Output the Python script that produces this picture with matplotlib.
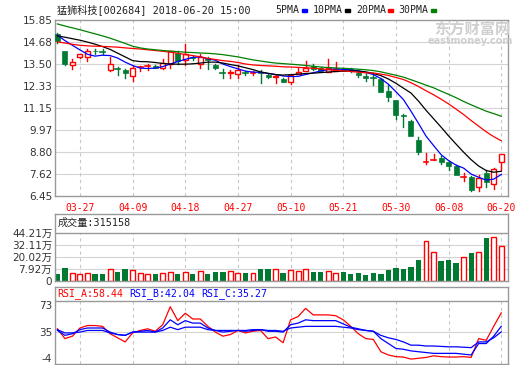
import matplotlib
matplotlib.use("Agg")
import matplotlib.pyplot as plt
import numpy as np
from matplotlib.patches import Rectangle

plt.rcParams['font.family'] = ['DejaVu Sans', 'Noto Sans CJK SC']

# ---- data ----
opens = [15.12, 14.20, 13.45, 13.88, 13.88, 14.22, 14.17, 13.18, 13.24, 13.18,
         12.86, 13.29, 13.38, 13.40, 13.31, 13.52, 14.11, 13.70, 13.88, 13.52,
         13.83, 13.45, 13.07, 13.02, 12.94, 13.02, 13.02, 13.05, 12.91, 12.80,
         12.72, 12.56, 12.98, 13.13, 13.38, 13.31, 13.09, 13.13, 13.25, 13.22,
         13.04, 12.86, 12.75, 12.72, 12.05, 11.57, 10.78, 10.48, 9.42, 8.22,
         8.36, 8.49, 8.29, 8.03, 7.44, 7.49, 6.95, 7.67, 7.10, 8.26]
highs = [15.16, 14.20, 13.79, 14.02, 14.30, 14.30, 14.29, 13.89, 13.34, 13.22,
         13.40, 13.39, 13.50, 13.42, 13.79, 14.22, 14.17, 14.58, 13.95, 14.05,
         13.87, 13.49, 13.22, 13.20, 13.43, 13.12, 13.12, 13.18, 12.95, 12.90,
         12.76, 12.92, 13.30, 13.68, 13.50, 13.36, 13.75, 13.61, 13.30, 13.26,
         13.08, 12.95, 12.90, 12.75, 12.40, 11.60, 10.82, 10.50, 9.58, 8.74,
         8.71, 8.60, 8.32, 8.10, 7.66, 7.50, 7.56, 7.85, 7.96, 8.71]
lows = [14.60, 13.45, 13.22, 13.81, 13.68, 14.06, 14.03, 13.13, 12.91, 12.74,
        12.60, 13.10, 13.20, 13.28, 13.22, 13.28, 13.49, 13.43, 13.70, 13.30,
        13.22, 13.22, 12.77, 12.77, 12.77, 12.90, 12.90, 12.50, 12.75, 12.50,
        12.52, 12.41, 12.95, 13.10, 13.20, 13.10, 13.05, 13.10, 13.10, 13.05,
        12.83, 12.60, 12.38, 11.98, 11.55, 10.57, 10.14, 9.63, 8.70, 8.17,
        8.36, 8.15, 7.85, 7.55, 7.27, 6.72, 6.72, 6.95, 6.80, 7.85]
closes = [14.72, 13.52, 13.63, 14.02, 14.17, 14.18, 14.13, 13.49, 13.21, 13.04,
          13.31, 13.32, 13.41, 13.31, 13.58, 14.20, 13.66, 14.02, 13.82, 13.85,
          13.70, 13.26, 13.04, 13.06, 13.17, 13.00, 13.04, 13.00, 12.79, 12.85,
          12.56, 12.90, 13.07, 13.31, 13.25, 13.13, 13.31, 13.22, 13.15, 13.13,
          12.90, 12.75, 12.73, 12.00, 11.73, 10.80, 10.72, 9.63, 8.78, 8.24,
          8.38, 8.26, 8.03, 7.58, 7.46, 6.77, 7.40, 7.22, 7.88, 8.71]

ma5 = [15.04, 14.75, 14.50, 14.25, 14.02, 13.92, 13.97, 13.95, 13.82, 13.60,
       13.42, 13.28, 13.26, 13.28, 13.36, 13.50, 13.63, 13.75, 13.85, 13.88,
       13.78, 13.70, 13.50, 13.36, 13.24, 13.12, 13.07, 13.05, 13.00, 12.94,
       12.86, 12.83, 12.84, 12.94, 13.03, 13.13, 13.20, 13.24, 13.21, 13.19,
       13.14, 13.04, 12.94, 12.72, 12.42, 12.02, 11.60, 10.98, 10.33, 9.65,
       9.15, 8.66, 8.34, 8.10, 7.94, 7.62, 7.45, 7.30, 7.35, 7.60]
ma10 = [15.00, 14.93, 14.85, 14.77, 14.67, 14.56, 14.43, 14.28, 14.08, 13.88,
        13.68, 13.63, 13.62, 13.58, 13.53, 13.50, 13.49, 13.49, 13.51, 13.55,
        13.60, 13.60, 13.55, 13.47, 13.40, 13.30, 13.20, 13.08, 13.00, 12.93,
        12.91, 12.93, 12.96, 12.99, 13.01, 13.04, 13.07, 13.10, 13.12, 13.13,
        13.12, 13.08, 13.00, 12.88, 12.70, 12.47, 12.21, 11.95, 11.52, 11.03,
        10.58, 10.13, 9.66, 9.22, 8.79, 8.39, 8.05, 7.81, 7.72, 7.77]
ma20 = [14.68, 14.62, 14.55, 14.50, 14.47, 14.45, 14.44, 14.42, 14.40, 14.36,
        14.33, 14.30, 14.26, 14.22, 14.18, 14.13, 14.08, 14.00, 13.95, 13.88,
        13.80, 13.74, 13.68, 13.64, 13.58, 13.50, 13.45, 13.42, 13.40, 13.38,
        13.35, 13.34, 13.32, 13.30, 13.27, 13.24, 13.20, 13.16, 13.13, 13.10,
        13.06, 13.03, 13.02, 12.96, 12.89, 12.78, 12.67, 12.50, 12.30, 12.07,
        11.86, 11.62, 11.37, 11.09, 10.80, 10.48, 10.18, 9.88, 9.62, 9.40]
ma30 = [15.64, 15.53, 15.43, 15.33, 15.22, 15.11, 15.00, 14.88, 14.74, 14.60,
        14.45, 14.36, 14.30, 14.26, 14.22, 14.19, 14.16, 14.13, 14.11, 14.09,
        14.07, 14.04, 14.00, 13.94, 13.88, 13.80, 13.72, 13.66, 13.60, 13.55,
        13.52, 13.49, 13.46, 13.42, 13.38, 13.34, 13.31, 13.29, 13.27, 13.25,
        13.22, 13.19, 13.15, 13.08, 12.99, 12.90, 12.80, 12.66, 12.52, 12.37,
        12.23, 12.05, 11.88, 11.70, 11.50, 11.32, 11.15, 10.98, 10.85, 10.71]

# volume in 万 (10k) hands
volume = [3.0, 9.1, 4.0, 2.7, 3.7, 3.0, 3.0, 7.8, 5.0, 8.1,
          6.8, 3.7, 2.7, 3.0, 4.0, 5.0, 3.0, 4.7, 3.0, 5.8,
          3.0, 5.0, 5.0, 6.0, 4.0, 4.0, 4.0, 8.1, 8.1, 8.1,
          4.0, 7.1, 6.0, 8.1, 5.0, 5.0, 6.0, 4.0, 5.0, 3.0,
          4.0, 2.0, 4.0, 3.0, 7.4, 9.1, 8.1, 10.4, 16.6, 35.7,
          25.5, 15.6, 17.3, 14.2, 20.1, 24.5, 25.5, 39.1, 39.8, 31.52]

rsi_a = [39, 27, 30, 40, 43, 43, 42, 33, 28, 23,
         34, 37, 39, 36, 44, 66, 49, 58, 51, 51,
         42, 35, 30, 32, 37, 34, 36, 37, 27, 29,
         22, 50, 54, 64, 56, 56, 56, 55, 50, 42,
         33, 27, 26, 11, 7, 5, 4.5, 2, 3, 4,
         6, 5, 4.5, 4.5, 5, 4, 27, 25, 42, 58.44]
rsi_b = [37, 31, 33, 38, 40, 40, 40, 35, 32, 31,
         35, 36, 37, 35, 40, 50, 44, 49, 46, 46,
         40, 37, 35, 36, 37, 36, 37, 38, 36, 36,
         35, 44, 46, 50, 49, 49, 49, 49, 45, 41,
         39, 37, 36, 27, 21, 15, 14, 12, 11, 10,
         9, 9, 9, 9, 8, 7, 21, 21, 30, 42.04]
rsi_c = [38, 34, 34, 35, 37, 37, 37, 34, 32, 31,
         35, 35, 35, 35, 37, 41, 38, 41, 41, 41,
         38, 37, 37, 37, 37, 37, 38, 38, 37, 37,
         36, 40, 41, 42, 42, 42, 42, 42, 41, 40,
         38, 37, 36, 31, 28, 26, 23, 19, 19, 18,
         18, 17.5, 17, 17, 16.5, 16, 23, 23, 28, 35.27]

tick_pos = [3, 10, 17, 24, 31, 38, 45, 52, 59]
tick_labels = ['03-27', '04-09', '04-18', '04-27', '05-10', '05-21', '05-30', '06-08', '06-20']
price_ticks = [15.85, 14.68, 13.50, 12.33, 11.15, 9.97, 8.80, 7.62, 6.45]
vol_ticks = [44.21, 32.11, 20.02, 7.92, -4.18]
vol_tick_labels = ['44.21万', '32.11万', '20.02万', '7.92万', '0']

RED = '#ff0000'
GREEN = '#007a33'
FRAME = '#999999'
GRID = '#d4d4d4'
MONO = ['DejaVu Sans Mono', 'Noto Sans CJK SC']

x = np.arange(len(closes))
xlim = (-0.32, 59.9)

W, H = 520, 365
fig = plt.figure(figsize=(W / 100, H / 100), dpi=100)


def box(l, t, r, b):
    return [l / W, 1 - b / H, (r - l) / W, (b - t) / H]


def style(ax):
    for s in ax.spines.values():
        s.set_color(FRAME)
        s.set_linewidth(1)
    ax.tick_params(length=0, labelsize=7.5, colors='#333333', pad=2)
    ax.set_xlim(*xlim)


def vgrid(ax, top, bottom):
    for p in tick_pos:
        ax.plot([p, p], [bottom, top], color='#c8c8c8', lw=0.8,
                ls=(0, (3, 3)), zorder=0)


# ---- price panel ----
ax = fig.add_axes(box(55, 20, 508, 196))
style(ax)
ax.set_ylim(6.45, 15.85)
ax.set_yticks(price_ticks)
ax.set_yticklabels(['%.2f' % v for v in price_ticks])
for v in price_ticks[1:-1]:
    ax.axhline(v, color=GRID, lw=0.8, zorder=0)
vgrid(ax, 15.85, 6.45)
ax.set_xticks(tick_pos)
ax.set_xticklabels(tick_labels, color=RED, fontsize=7, family=MONO)
ax.tick_params(axis='x', pad=5)

bw = 0.66
for i in range(len(closes)):
    o, h, l, c = opens[i], highs[i], lows[i], closes[i]
    up = c >= o
    col = RED if up else GREEN
    lo_b, hi_b = min(o, c), max(o, c)
    ax.plot([i, i], [hi_b, h], color=col, lw=1, zorder=2)
    ax.plot([i, i], [l, lo_b], color=col, lw=1, zorder=2)
    if hi_b - lo_b < 0.04:
        ax.plot([i - bw / 2, i + bw / 2], [c, c], color=col, lw=1.2, zorder=3)
    elif up:
        ax.add_patch(Rectangle((i - bw / 2, lo_b), bw, hi_b - lo_b,
                               facecolor='white', edgecolor=col, lw=1, zorder=3))
    else:
        ax.add_patch(Rectangle((i - bw / 2, lo_b), bw, hi_b - lo_b,
                               facecolor=col, edgecolor=col, lw=0.5, zorder=3))

ax.plot(x, ma5, color='#0000ff', lw=0.9, zorder=4)
ax.plot(x, ma10, color='black', lw=0.9, zorder=4)
ax.plot(x, ma20, color=RED, lw=0.9, zorder=4)
ax.plot(x, ma30, color='#008000', lw=0.9, zorder=4)

# watermark
fig.text(472 / W, 1 - 29 / H, '东方财富网', color='#cfcfcf', fontsize=11,
         ha='center', va='center', family=['Noto Sans CJK SC'], weight='bold')
fig.text(470 / W, 1 - 41 / H, 'eastmoney.com', color='#cfcfcf', fontsize=7,
         ha='center', va='center', weight='bold')

# title + legend
fig.text(57 / W, 1 - 10 / H, '猛狮科技[002684] 2018-06-20 15:00', fontsize=7.3,
         family=MONO, va='center', color='#222222')
legend = [('5PMA', 275, 302, '#0000ff'), ('10PMA', 313, 345, 'black'),
          ('20PMA', 356, 388, RED), ('30PMA', 398, 431, '#008000')]
for name, tx, bx, col in legend:
    fig.text(tx / W, 1 - 10 / H, name, fontsize=7.1, family=MONO,
             va='center', color='#222222')
    fig.patches.append(Rectangle((bx / W, 1 - 12 / H), 5 / W, 3 / H,
                                 transform=fig.transFigure, color=col))

# ---- volume panel ----
av = fig.add_axes(box(55, 214, 508, 281))
style(av)
av.set_xticks([])
vmin = -4.18
av.set_ylim(vmin, 63.3)
av.set_yticks(vol_ticks)
av.set_yticklabels(vol_tick_labels)
av.axhline(44.21, color=FRAME, lw=1, zorder=1)
for v in vol_ticks[1:-1]:
    av.axhline(v, color=GRID, lw=0.8, zorder=0)
vgrid(av, 44.21, vmin)
for i in range(len(volume)):
    up = closes[i] >= opens[i]
    if up:
        av.bar(i, volume[i] - vmin, bottom=vmin, width=0.66, facecolor='white',
               edgecolor=RED, lw=1, zorder=2)
    else:
        av.bar(i, volume[i] - vmin, bottom=vmin, width=0.7, color=GREEN, zorder=2)
av.text(0.006, 0.865, '成交量:315158', transform=av.transAxes, fontsize=7.3,
        family=MONO, va='center', color='#222222')

# ---- RSI panel ----
ar = fig.add_axes(box(55, 287, 508, 364))
style(ar)
ar.set_xticks([])
ar.set_ylim(-4, 90.1)
ar.set_yticks([73, 35, -4])
ar.set_yticklabels(['73', '35', '-4'])
labs = ar.get_yticklabels()
labs[0].set_va('top')
labs[2].set_va('bottom')
ar.axhline(73, color=FRAME, lw=1, zorder=1)
ar.axhline(35, color=GRID, lw=0.8, zorder=0)
vgrid(ar, 73, -4)
ar.plot(x, rsi_a, color=RED, lw=0.9, zorder=3)
ar.plot(x, rsi_b, color='#0000ff', lw=0.9, zorder=3)
ar.plot(x, rsi_c, color='#0000ff', lw=0.9, zorder=3)
for txt, xp, col in [('RSI_A:58.44', 57, RED), ('RSI_B:42.04', 129, '#0000ff'),
                     ('RSI_C:35.27', 201, '#0000ff')]:
    ar.text((xp - 55) / 453, 0.91, txt, transform=ar.transAxes, fontsize=7.1,
            family=MONO, va='center', color=col)

fig.savefig('out.png', dpi=100)
